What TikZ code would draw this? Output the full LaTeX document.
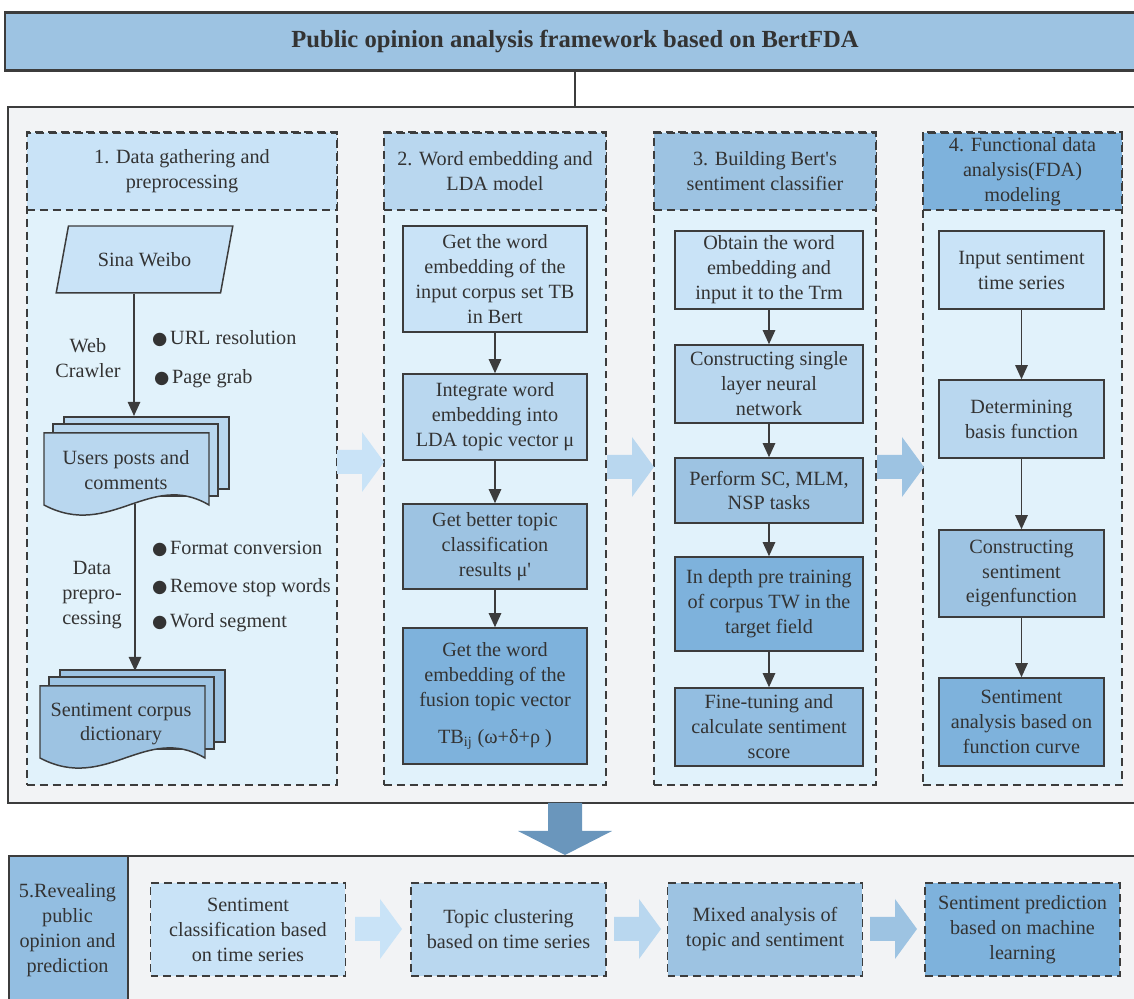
\documentclass[tikz,border=0pt]{standalone}
\usepackage{fontspec}
\setmainfont{Liberation Serif}
\newfontfamily\dejavu{DejaVu Sans}
\usetikzlibrary{arrows.meta,shapes.geometric}

\definecolor{c1}{HTML}{C9E3F7}
\definecolor{c2}{HTML}{B9D7EF}
\definecolor{c3}{HTML}{9DC3E2}
\definecolor{c4}{HTML}{7EB2DC}
\definecolor{c5}{HTML}{93BEE1}
\definecolor{bodyblue}{HTML}{E1F2FB}
\definecolor{bggrey}{HTML}{F2F3F5}
\definecolor{downblue}{HTML}{6A96BC}
\definecolor{edge}{HTML}{3C3C3C}
\definecolor{ink}{HTML}{333333}

\newcommand{\bul}{{\dejavu\fontsize{10}{10}\selectfont ●}\hspace{1.5pt}}

% block arrow: x, y (centre of the tail), colour
\newcommand{\blockarrow}[3]{\fill[#3] (#1,#2) ++(0,-12) -- ++(25,0) -- ++(0,-18) -- ++(22,30) -- ++(-22,30) -- ++(0,-18) -- ++(-25,0) -- cycle;}

% stack of three documents: x, y (top left of the front sheet), colour
\newcommand{\docstack}[3]{%
  \begin{scope}[shift={(#1,#2)}]
    \draw[edge,line width=0.85pt,fill=#3] (20,-16) rectangle (185,56);
    \draw[edge,line width=0.85pt,fill=#3] (9,-9) rectangle (174,63);
    \draw[edge,line width=0.85pt,fill=#3] (0,0) -- (165,0) -- (165,72) .. controls (106,37) and (66,107) .. (0,72) -- cycle;
  \end{scope}}

\begin{document}
\begin{tikzpicture}[x=0.02cm,y=-0.02cm,font=\fontsize{11.5}{14.2}\selectfont,text=ink]
        \tikzstyle{frame}=[draw=edge,line width=1.1pt,fill=bggrey]
        \tikzstyle{box}=[draw=edge,line width=0.85pt,align=center,inner sep=0pt]
        \tikzstyle{colbody}=[draw=edge,dash pattern=on 4.5pt off 2.8pt,line width=0.85pt,fill=bodyblue]
        \tikzstyle{colhead}=[colbody,align=center,inner sep=0pt]
        \tikzstyle{stepbox}=[colbody,align=center,inner sep=0pt,minimum width=3.9cm,minimum height=1.86cm]
        \tikzstyle{arr}=[draw=edge,line width=1pt,-{Triangle[length=8pt,width=7pt]}]

        \path[use as bounding box] (0,0) rectangle (1134,999);
        \clip (0,0) rectangle (1134,999);

        % title and frames
        \node[draw=edge,line width=1.4pt,fill=c3,minimum width=22.8cm,minimum height=1.16cm,
              font=\bfseries\fontsize{14}{16}\selectfont] (title) at (575,41.5) {Public opinion analysis framework based on BertFDA};
        \node[frame,minimum width=22.68cm,minimum height=13.92cm] (frame) at (575,455) {};
        \draw[edge,line width=0.9pt] (title.south) -- (frame.north);

        % columns
        \node[colbody,minimum width=6.2cm,minimum height=13.06cm] (col1) at (182,458.5) {};
        \node[colhead,fill=c1,minimum width=6.2cm,minimum height=1.54cm] (h1) at (182,171.5) {1. Data gathering and\\preprocessing};
        \node[colbody,minimum width=4.44cm,minimum height=13.06cm] (col2) at (495,458.5) {};
        \node[colhead,fill=c2,minimum width=4.44cm,minimum height=1.54cm] (h2) at (495,171.5) {2. Word embedding and\\LDA model};
        \node[colbody,minimum width=4.44cm,minimum height=13.06cm] (col3) at (765,458.5) {};
        \node[colhead,fill=c3,minimum width=4.44cm,minimum height=1.54cm] (h3) at (765,171.5) {3. Building Bert\textquotesingle s\\sentiment classifier};
        \node[colbody,minimum width=3.98cm,minimum height=13.06cm] (col4) at (1022.5,458.5) {};
        \node[colhead,fill=c4,minimum width=3.98cm,minimum height=1.54cm] (h4) at (1022.5,171.5) {4. Functional data\\analysis(FDA)\\modeling};

        % 1. data gathering
        \node[trapezium,trapezium left angle=72,trapezium right angle=108,trapezium stretches=true,
              draw=edge,line width=0.85pt,fill=c1,minimum width=3.54cm,minimum height=1.34cm] (sina) at (144.5,259.5) {Sina Weibo};
        \docstack{44}{433}{c2}
        \node[align=center] (posts) at (126,470) {Users posts and\\comments};
        \docstack{40}{686}{c3}
        \node[align=center] (corpus) at (121,724) {Sentiment corpus\\dictionary};
        \coordinate (posttop) at (134,416);
        \coordinate (postwave) at (135,504);
        \coordinate (corptop) at (135,671);
        \draw[arr] (sina.south -| posttop) -- (posttop);
        \draw[arr] (postwave) -- (corptop);
        \node[align=center] (crawl) at (88,358) {Web\\Crawler};
        \node[align=center] (prep) at (92,595) {Data\\prepro-\\cessing};
        \node[anchor=west] (url) at (146,339) {\bul URL resolution};
        \node[anchor=west] (grab) at (148,379) {\bul Page grab};
        \node[anchor=west] (fmt) at (146,549) {\bul Format conversion};
        \node[anchor=west] (stop) at (146,588) {\bul Remove stop words};
        \node[anchor=west] (seg) at (146,623) {\bul Word segment};

        % 2. word embedding and LDA
        \node[box,fill=c1,minimum width=3.68cm,minimum height=2.12cm] (b21) at (495,279) {Get the word\\embedding of the\\input corpus set TB\\in Bert};
        \node[box,fill=c2,minimum width=3.68cm,minimum height=1.72cm] (b22) at (495,417) {Integrate word\\embedding into\\LDA topic vector μ};
        \node[box,fill=c3,minimum width=3.68cm,minimum height=1.7cm] (b23) at (495,546.5) {Get better topic\\classification\\results μ\textquotesingle};
        \node[box,fill=c4,minimum width=3.68cm,minimum height=2.72cm] (b24) at (495,696) {Get the word\\embedding of the\\fusion topic vector\\[7pt]TB\textsubscript{ij} (ω+δ+ρ )};
        \draw[arr] (b21) -- (b22);
        \draw[arr] (b22) -- (b23);
        \draw[arr] (b23) -- (b24);

        % 3. Bert classifier
        \node[box,fill=c1,minimum width=3.76cm,minimum height=1.56cm] (b31) at (769,270) {Obtain the word\\embedding and\\input it to the Trm};
        \node[box,fill=c2,minimum width=3.76cm,minimum height=1.56cm] (b32) at (769,384) {Constructing single\\layer neural\\network};
        \node[box,fill=c3,minimum width=3.76cm,minimum height=1.3cm] (b33) at (769,490.5) {Perform SC, MLM,\\NSP tasks};
        \node[box,fill=c4,minimum width=3.76cm,minimum height=1.88cm] (b34) at (769,604) {In depth pre training\\of corpus TW in the\\target field};
        \node[box,fill=c5,minimum width=3.76cm,minimum height=1.56cm] (b35) at (769,727) {Fine-tuning and\\calculate sentiment\\score};
        \draw[arr] (b31) -- (b32);
        \draw[arr] (b32) -- (b33);
        \draw[arr] (b33) -- (b34);
        \draw[arr] (b34) -- (b35);

        % 4. FDA modeling
        \node[box,fill=c1,minimum width=3.3cm,minimum height=1.56cm] (b41) at (1021.5,270) {Input sentiment\\time series};
        \node[box,fill=c2,minimum width=3.3cm,minimum height=1.56cm] (b42) at (1021.5,419) {Determining\\basis function};
        \node[box,fill=c3,minimum width=3.3cm,minimum height=1.74cm] (b43) at (1021.5,573.5) {Constructing\\sentiment\\eigenfunction};
        \node[box,fill=c4,minimum width=3.3cm,minimum height=1.76cm] (b44) at (1021.5,722) {Sentiment\\analysis based on\\function curve};
        \draw[arr] (b41) -- (b42);
        \draw[arr] (b42) -- (b43);
        \draw[arr] (b43) -- (b44);

        \blockarrow{337}{462}{c1}
        \blockarrow{607}{467}{c2}
        \blockarrow{877}{467}{c3}

        % 5. revealing public opinion
        \node[frame,anchor=north west,minimum width=22.68cm,minimum height=3.3cm] (lower) at (8,855) {};
        \node[draw=edge,line width=1.1pt,fill=c5,anchor=north west,minimum width=2.38cm,minimum height=3.3cm] (p5) at (8,855) {};
        \node[align=center] (p5txt) at (67.5,930) {5.Revealing\\public\\opinion and\\prediction};
        \fill[downblue] (548,803) -- (582,803) -- (582,831) -- (612,831) -- (565,855) -- (518,831) -- (548,831) -- cycle;

        \node[stepbox,fill=c1] (s1) at (248,929.5) {Sentiment\\classification based\\on time series};
        \node[stepbox,fill=c2] (s2) at (508.5,929.5) {Topic clustering\\based on time series};
        \node[stepbox,fill=c3] (s3) at (765,929.5) {Mixed analysis of\\topic and sentiment};
        \node[stepbox,fill=c4] (s4) at (1022.5,929.5) {Sentiment prediction\\based on machine\\learning};
        \blockarrow{355}{929}{c1}
        \blockarrow{614}{929}{c2}
        \blockarrow{870}{929}{c3}
\end{tikzpicture}
\end{document}
